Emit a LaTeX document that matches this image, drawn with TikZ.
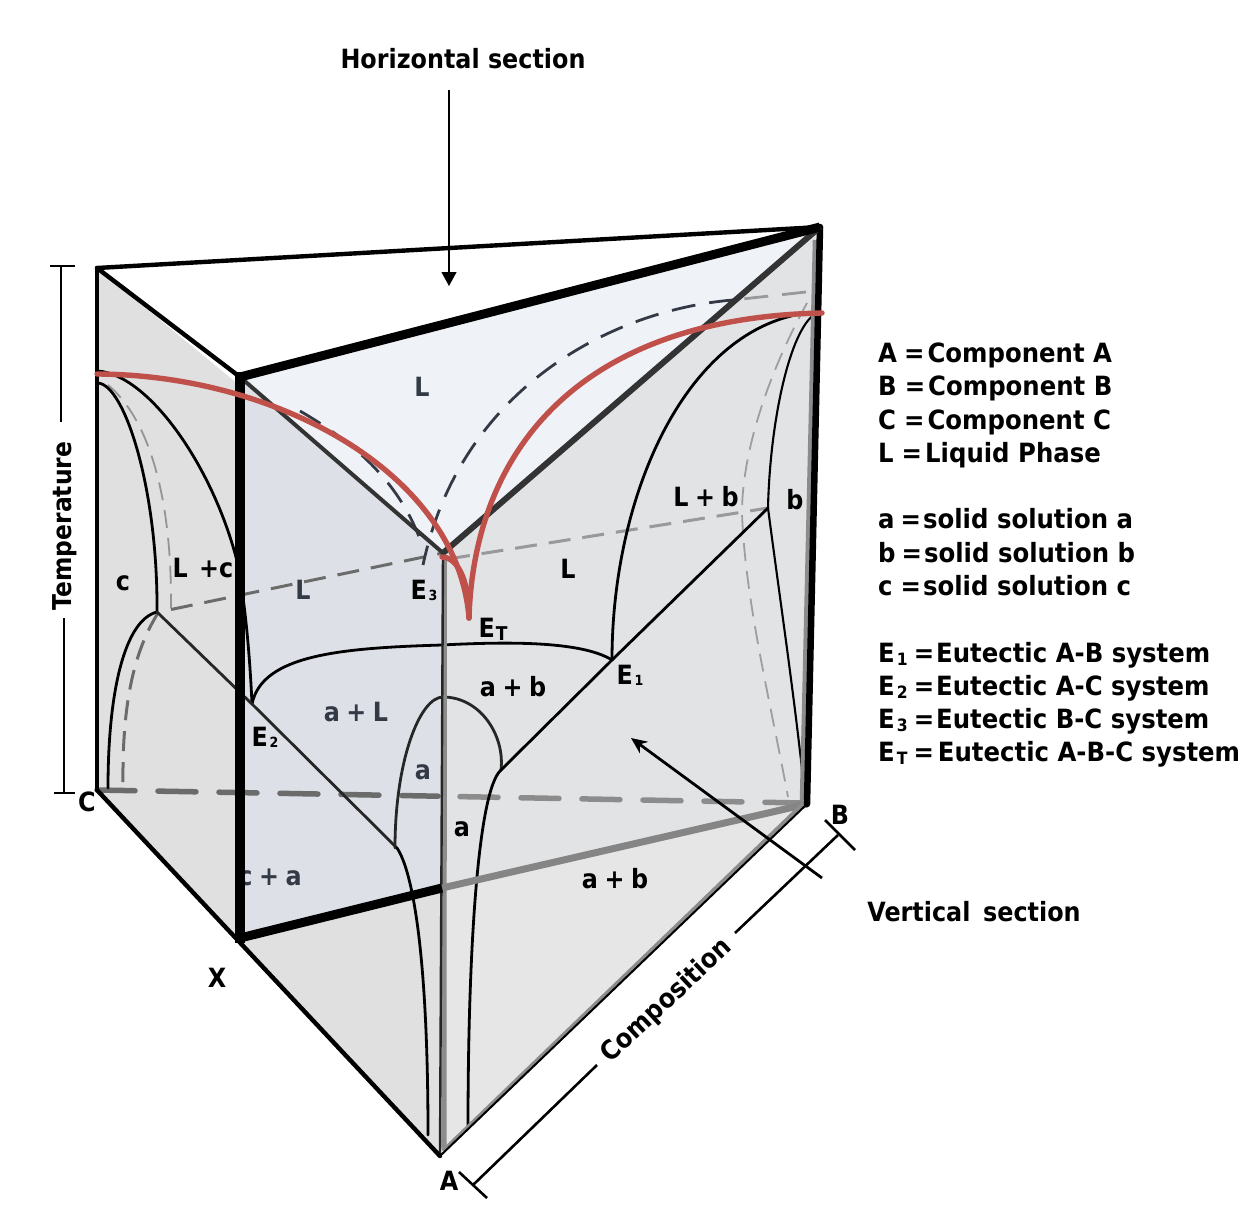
\documentclass[tikz,border=0pt]{standalone}
\usepackage{fontspec}
\setmainfont{DejaVu Sans}[FakeStretch=0.9]
\newfontfamily\legfont{DejaVu Sans}[FakeStretch=0.92]
\usetikzlibrary{arrows.meta}
\definecolor{redc}{HTML}{C0504A}
\definecolor{topf}{HTML}{EFF2F7}
\definecolor{secf}{HTML}{DDE0E6}
\definecolor{leftf}{HTML}{E0E0E0}
\definecolor{rightf}{HTML}{E2E3E5}
\definecolor{lowf}{HTML}{E6E6E6}
\definecolor{darkt}{HTML}{333A45}
\newcommand{\Esb}[1]{E\hspace{1.5pt}\raisebox{-1pt}{\fontsize{14}{14}\selectfont #1}}
\newcommand{\Esl}[1]{E\hspace{2pt}\raisebox{-3.5pt}{\fontsize{17}{17}\selectfont #1}}
\newcommand{\Pl}{\hspace{6.5pt}+\hspace{6.5pt}}
\tikzset{
  lab/.style={font=\fontsize{26.5}{30}\selectfont\bfseries,inner sep=0pt,text=black},
  dlab/.style={lab,text=darkt},
  leg/.style={font=\fontsize{26.5}{30}\selectfont\bfseries\legfont,inner sep=0pt,text=black,anchor=base west},
  curve/.style={draw=black,line width=2.8pt,line cap=round},
  thincurve/.style={draw=black,line width=2.1pt,line cap=round},
  graydash/.style={draw=gray!85,line width=1.8pt,dash pattern=on 18pt off 10pt},
  darkdash/.style={draw=darkt,line width=2.8pt,dash pattern=on 24pt off 14pt},
  midgdash/.style={line width=3pt,dash pattern=on 22pt off 12pt},
  basedash/.style={line width=5.5pt,dash pattern=on 38pt off 23pt,line cap=round},
  redcurve/.style={draw=redc,line width=5.4pt,line cap=round},
  brk/.style={draw=black,line width=1.8pt}
}
\begin{document}
\begin{tikzpicture}[x=1pt,y=-1pt]
\useasboundingbox (0,0) rectangle (1257,1225);
\coordinate (Ct) at (97,268);
\coordinate (Bt) at (820,227);
\coordinate (Xt) at (240,377);
\coordinate (At) at (443,553);
\coordinate (C) at (97,790);
\coordinate (B) at (807,804);
\coordinate (A) at (440,1156);
\coordinate (X) at (240,938);
\coordinate (Sm) at (442,888);
\coordinate (E1) at (612,660);
\coordinate (E2) at (252,704);
\coordinate (Pc) at (157,612);
\coordinate (Pa) at (397,848);
\coordinate (Pb) at (768,508);
\coordinate (Pd) at (501,770);
\coordinate (ET) at (469,618);
% fills
\fill[leftf] (Ct) -- (At) -- (A) -- (C) -- cycle;
\fill[rightf] (At) -- (Bt) -- (B) -- (A) -- cycle;
\fill[lowf] (Sm) -- (B) -- (A) -- cycle;
\fill[topf] (Xt) -- (Bt) -- (At) -- cycle;
\fill[secf] (Xt) -- (At) -- (Sm) -- (X) -- cycle;
% labels under lines
\node[dlab] (lcpa) at (270,877) {c\Pl a};
\node[dlab] (lLm) at (303,590) {L};
\node[dlab] (lLt) at (422,387) {L};
\node[dlab] (laL) at (356,712) {a\Pl L};
\node[dlab] (lam) at (423,772) {a};
% hidden dashed lines
\draw[basedash,draw=black!58] (C) -- (438,796.2);
\draw[basedash,draw=black!45] (460,796.6) -- (803,803);
\draw[midgdash,draw=black!58] (171,609.5) -- (At);
\draw[midgdash,draw=black!40] (448,559) -- (Pb);
\draw[graydash,draw=black!42] (108,385) .. controls (150,420) and (172,500) .. (171,608);
\draw[midgdash,draw=black!58,dash pattern=on 20pt off 11pt] (158,613) .. controls (135,650) and (122,700) .. (123,785);
\draw[graydash,draw=black!38] (807,303) .. controls (770,370) and (742,450) .. (742,513) .. controls (745,600) and (770,700) .. (788,797);
\draw[darkdash] (733,300) .. controls (610,310) and (460,390) .. (423,565);
\draw[darkdash,draw=black!40] (806,292) -- (733,300);
\draw[darkdash] (300,411) .. controls (350,440) and (400,480) .. (422,545);
% diagram curves
\draw[curve] (98,371) .. controls (150,375) and (215,470) .. (238,565) .. controls (246,610) and (250,660) .. (E2);
\draw[curve] (98,383) .. controls (125,385) and (158,490) .. (Pc);
\draw[curve] (Pc) .. controls (125,620) and (108,690) .. (108,788);
\draw[curve] (E2) .. controls (262,655) and (340,648) .. (442,645) .. controls (500,642) and (580,640) .. (E1);
\draw[curve,draw=black!85] (Pc) -- (E2) -- (Pa);
\draw[curve,draw=black!85] (395,848) .. controls (395,760) and (420,697) .. (443,697) .. controls (480,697) and (505,735) .. (Pd);
\draw[curve] (Pa) .. controls (412,870) and (428,950) .. (428,1135);
\draw[curve] (Pd) .. controls (478,790) and (468,950) .. (468,1127);
\draw[curve] (Pd) -- (E1) -- (Pb);
\draw[curve] (E1) .. controls (612,490) and (690,320) .. (817,312);
\draw[thincurve] (Pb) .. controls (770,420) and (790,330) .. (815,314);
\draw[thincurve] (Pb) .. controls (780,600) and (795,700) .. (805,797);
% edges
\draw[line width=5pt,draw=black!45] (444.5,555) -- (444,1150);
\draw[line width=2.4pt,draw=black!85] (At) -- (A);
\draw[line width=7pt,draw=black!48] (Sm) -- (B);
\draw[line width=4pt,draw=black!45] (443,1151) -- (804,803);
\draw[line width=2pt] (A) -- (B);
\draw[line width=4.5pt,draw=black!45] (815,240) -- (802,800);
\draw[line width=6.5pt,line cap=round] (Bt) -- (B);
\draw[line width=4.5pt] (Ct) -- (C);
\draw[line width=4.4pt,line cap=round] (C) -- (A);
\draw[line width=4.4pt,line cap=round] (Ct) -- (Bt);
\draw[line width=4.4pt,line cap=round] (Ct) -- (Xt);
\draw[line width=4pt,draw=black!80] (Xt) -- (At);
\draw[line width=6pt,draw=black!80] (At) -- (Bt);
\draw[line width=10pt,line cap=rect] (Xt) -- (X);
\draw[line width=9pt] (Xt) -- (Bt);
\draw[line width=9pt] (X) -- (Sm);
% red curves
\draw[redcurve] (97,374) .. controls (280,375) and (458,475) .. (ET);
\draw[redcurve] (ET) .. controls (474,450) and (580,318) .. (822,313);
\draw[redcurve] (442,557) .. controls (455,557) and (469,575) .. (ET);
% brackets and arrows
\draw[brk] (50,266) -- (75,266);
\draw[brk] (61,266) -- (61,422);
\draw[brk] (64,618) -- (64,793);
\draw[brk] (54,793) -- (75,793);
\draw[line width=1.1pt,-{Triangle[width=15pt,length=14pt]}] (449,90) -- (449,286);
\draw[line width=2.8pt,-{Stealth[length=16pt,width=14pt]}] (822,878) -- (631,738);
\coordinate (q1) at (473,1185);
\coordinate (q2) at (597,1065);
\coordinate (q3) at (735,933);
\coordinate (q4) at (838,835);
\draw[line width=2.6pt] (459,1172) -- (487,1198);
\draw[line width=2.6pt] (q1) -- (q2);
\draw[line width=2.6pt] (q3) -- (q4);
\draw[line width=2.6pt] (825,820) -- (855,850);
% labels
\node[lab] (hs) at (463,59) {Horizontal section};
\node[lab] (vs) at (974,912) {Vertical\, section};
\node[lab,rotate=90,font=\fontsize{26}{30}\selectfont\bfseries] (tmp) at (65,526) {Temperature};
\node[lab,rotate=43] (cmp) at (667,1001) {Composition};
\node[lab] (lc) at (123,583) {c};
\node[lab] (lLc) at (203,568) {L\hspace{3pt} +c};
\node[lab] (lE3) at (424,590) {\Esb{3}};
\node[lab] (lLr) at (568,569) {L};
\node[lab] (lLb) at (706,497) {L\Pl b};
\node[lab] (lb) at (795,500) {b};
\node[lab] (lET) at (493,629) {E\hspace{1pt}\raisebox{-3pt}{\fontsize{19}{19}\selectfont T}};
\node[lab] (lE1) at (630,675) {\Esb{1}};
\node[lab] (lab1) at (513,687) {a\Pl b};
\node[lab] (lE2) at (265,737) {\Esb{2}};
\node[lab] (lar) at (462,829) {a};
\node[lab] (lab2) at (615,879) {a\Pl b};
\node[lab] (vC) at (87,802) {C};
\node[lab] (vB) at (840,815) {B};
\node[lab] (vX) at (217,978) {X};
\node[lab] (vA) at (449,1181) {A};
% legend
\node[leg] (k1) at (878,362) {A\hspace{7pt}=\hspace{3pt}Component A};
\node[leg] (k2) at (878,395) {B\hspace{8pt}=\hspace{3pt}Component B};
\node[leg] (k3) at (878,429) {C\hspace{8pt}=\hspace{3pt}Component C};
\node[leg] (k4) at (878,462) {L\hspace{8pt}=\hspace{3pt}Liquid Phase};
\node[leg] (k5) at (878,528) {a\hspace{6pt}=\hspace{2pt}solid solution a};
\node[leg] (k6) at (878,562) {b\hspace{6pt}=\hspace{2pt}solid solution b};
\node[leg] (k7) at (878,595) {c\hspace{8pt}=\hspace{2pt}solid solution c};
\node[leg] (k8) at (878,662) {\Esl{1}\hspace{6pt}=\hspace{2pt}Eutectic A-B system};
\node[leg] (k9) at (878,695) {\Esl{2}\hspace{6pt}=\hspace{2pt}Eutectic A-C system};
\node[leg] (k10) at (878,728) {\Esl{3}\hspace{6pt}=\hspace{2pt}Eutectic B-C system};
\node[leg] (k11) at (878,761) {\Esl{T}\hspace{6pt}=\hspace{4pt}Eutectic A-B-C system};
\end{tikzpicture}
\end{document}
